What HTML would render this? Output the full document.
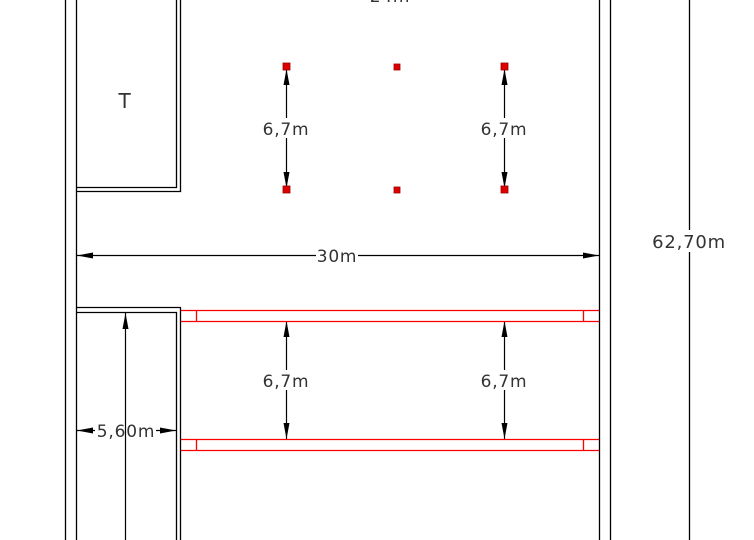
<!DOCTYPE html>
<html><head><meta charset="utf-8"><style>
html,body{margin:0;padding:0;background:#fff;}
svg{display:block;}
text{font-family:"DejaVu Sans","Liberation Sans",sans-serif;fill:#333;letter-spacing:0.8px;}
</style></head><body>
<svg width="754" height="540" viewBox="0 0 754 540" xmlns="http://www.w3.org/2000/svg">
<defs>
<marker id="b" viewBox="0 0 16 6" refX="16" refY="3" markerWidth="16" markerHeight="6" markerUnits="userSpaceOnUse" orient="auto-start-reverse">
<path d="M0,0 L16,3 L0,6 z" fill="#000"/></marker>
</defs>
<g stroke="#000" stroke-width="1.3" fill="none">
<line x1="65.5" y1="0" x2="65.5" y2="540"/>
<line x1="76.5" y1="0" x2="76.5" y2="540"/>
<polyline points="176.5,0 176.5,187.5 76.5,187.5"/>
<polyline points="180.5,0 180.5,191.5 76.5,191.5"/>
<polyline points="76.5,307.5 180.5,307.5 180.5,540"/>
<polyline points="76.5,312.5 176.5,312.5 176.5,540"/>
<line x1="599.5" y1="0" x2="599.5" y2="540"/>
<line x1="610.5" y1="0" x2="610.5" y2="540"/>
<line x1="689.5" y1="0" x2="689.5" y2="230"/>
<line x1="689.5" y1="252" x2="689.5" y2="540"/>
</g>
<g stroke="#000" stroke-width="1.2" fill="none">
<line x1="77" y1="255.5" x2="316" y2="255.5" marker-start="url(#b)"/>
<line x1="358" y1="255.5" x2="599" y2="255.5" marker-end="url(#b)"/>
<line x1="286.5" y1="69" x2="286.5" y2="118" marker-start="url(#b)"/>
<line x1="286.5" y1="138" x2="286.5" y2="188" marker-end="url(#b)"/>
<line x1="504.5" y1="69" x2="504.5" y2="118" marker-start="url(#b)"/>
<line x1="504.5" y1="138" x2="504.5" y2="188" marker-end="url(#b)"/>
<line x1="286.5" y1="321" x2="286.5" y2="370" marker-start="url(#b)"/>
<line x1="286.5" y1="390" x2="286.5" y2="439" marker-end="url(#b)"/>
<line x1="504.5" y1="321" x2="504.5" y2="370" marker-start="url(#b)"/>
<line x1="504.5" y1="390" x2="504.5" y2="439" marker-end="url(#b)"/>
<line x1="125.5" y1="313" x2="125.5" y2="540" marker-start="url(#b)"/>
<line x1="77" y1="430.5" x2="95" y2="430.5" marker-start="url(#b)"/>
<line x1="156" y1="430.5" x2="176" y2="430.5" marker-end="url(#b)"/>
</g>
<g stroke="#f00" stroke-width="1.3" fill="none">
<line x1="181" y1="310.5" x2="599" y2="310.5"/>
<line x1="181" y1="321.5" x2="599" y2="321.5"/>
<line x1="196.5" y1="310" x2="196.5" y2="321"/>
<line x1="583.5" y1="310" x2="583.5" y2="321"/>
<line x1="181" y1="439.5" x2="599" y2="439.5"/>
<line x1="181" y1="450.5" x2="599" y2="450.5"/>
<line x1="196.5" y1="439" x2="196.5" y2="450"/>
<line x1="583.5" y1="439" x2="583.5" y2="450"/>
</g>
<g fill="#d00" stroke="#900" stroke-width="0.8">
<rect x="283" y="63" width="7" height="7"/>
<rect x="394" y="64" width="6" height="6"/>
<rect x="501" y="63" width="7" height="7"/>
<rect x="283" y="186" width="7" height="7"/>
<rect x="394" y="187" width="6" height="6"/>
<rect x="501" y="186" width="7" height="7"/>
</g>
<g font-size="17" text-anchor="middle">
<text x="390" y="2">24m</text>
<text x="125" y="108" font-size="20">T</text>
<text x="286" y="135">6,7m</text>
<text x="504" y="135">6,7m</text>
<text x="337" y="262">30m</text>
<text x="689" y="248" font-size="18">62,70m</text>
<text x="286" y="387">6,7m</text>
<text x="504" y="387">6,7m</text>
<text x="126" y="437">5,60m</text>
</g>
</svg>
</body></html>
